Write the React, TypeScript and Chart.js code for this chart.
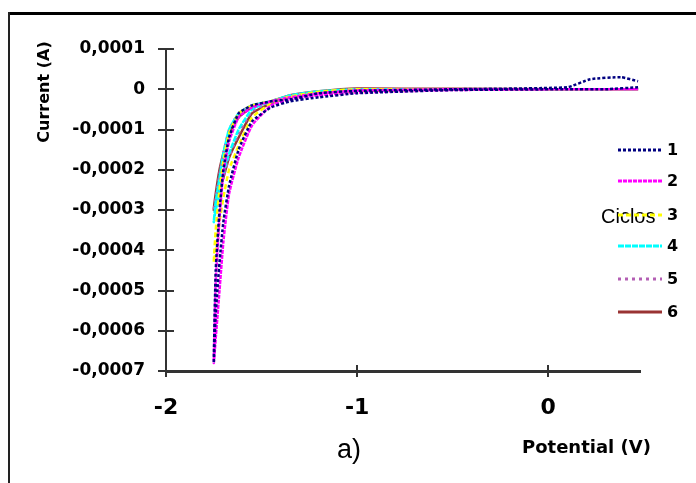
import React, { useEffect, useRef } from "react";
import { Chart, registerables } from "chart.js";
Chart.register(...registerables);

// Sweep potentials (V): forward to -1.75 V then back
const potential = [0.47, 0.3, 0.1, -0.5, -1.0, -1.2, -1.35, -1.45, -1.55, -1.62, -1.67, -1.7, -1.72, -1.74, -1.75,
  -1.74, -1.72, -1.7, -1.67, -1.62, -1.55, -1.45, -1.35, -1.2, -1.0, -0.5, 0.1, 0.22, 0.38, 0.47];

// Currents (A) for each cycle
const cycle1 = [0.000005, 0, 0, -0.000002, -0.00001, -0.00002, -0.00003, -0.000045, -0.00008, -0.00015, -0.00024, -0.00033, -0.00043, -0.00056, -0.00068,
  -0.00045, -0.0003, -0.0002, -0.00012, -0.00006, -0.00004, -0.00003, -0.000025, -0.00001, -0.000004, 0, 0.000005, 0.000025, 0.00003, 0.00002];
const cycle2 = [0, 0, 0, -0.000002, -0.000008, -0.000015, -0.000025, -0.00004, -0.00009, -0.00017, -0.00026, -0.00038, -0.0005, -0.00062, -0.00068,
  -0.00048, -0.00032, -0.00021, -0.00013, -0.00007, -0.000045, -0.00003, -0.00002, -0.00001, -0.000003, 0, 0, 0, 0, 0];
const cycle3 = [0, 0, 0, 0, -0.000005, -0.00001, -0.00002, -0.000035, -0.00007, -0.00014, -0.0002, -0.00027, -0.00033, -0.0004, -0.00043,
  -0.00035, -0.00025, -0.00018, -0.00011, -0.00006, -0.00004, -0.00003, -0.000018, -0.000006, 0, 0, 0, 0, 0, 0];
const cycle4 = [0, 0, 0, 0, -0.000003, -0.000008, -0.000018, -0.00003, -0.00005, -0.0001, -0.00016, -0.00021, -0.00026, -0.0003, -0.00033,
  -0.00028, -0.00022, -0.00016, -0.0001, -0.00006, -0.00004, -0.00003, -0.000015, -0.000005, 0, 0, 0, 0, 0, 0];
const cycle5 = [0, 0, 0, 0, -0.000004, -0.00001, -0.00002, -0.000032, -0.000055, -0.00011, -0.00017, -0.00022, -0.00026, -0.00029, -0.0003,
  -0.00027, -0.00021, -0.00016, -0.0001, -0.00006, -0.00004, -0.00003, -0.000016, -0.000005, 0, 0, 0, 0, 0, 0];
const cycle6 = [0, 0, 0, 0, -0.000002, -0.000008, -0.00002, -0.000035, -0.00006, -0.00012, -0.00017, -0.00022, -0.00025, -0.00028, -0.0003,
  -0.00026, -0.0002, -0.00016, -0.00011, -0.00007, -0.000045, -0.00003, -0.000015, -0.000005, 0.000002, 0.000001, 0, 0, 0, 0];

const cycleLabels = ["1", "2", "3", "4", "5", "6"];
const cycleColors = ["#000080", "#FF00FF", "#FFFF00", "#00FFFF", "#B45FB4", "#993333"];
const cycleDashes = [[3, 2], [4, 1], [5, 3], [6, 1], [3, 4], []];

const xTicks = [-2, -1, 0];
const xTickLabels = ["-2", "-1", "0"];
const yTicks = [0.0001, 0, -0.0001, -0.0002, -0.0003, -0.0004, -0.0005, -0.0006, -0.0007];
const yTickLabels = ["0,0001", "0", "-0,0001", "-0,0002", "-0,0003", "-0,0004", "-0,0005", "-0,0006", "-0,0007"];

const yTitle = "Current (A)";
const xTitle = "Potential (V)";
const panelLabel = "a)";
const legendTitle = "Ciclos";

const W = 696;
const H = 483;

const findLabel = (ticks: number[], labels: string[], v: number) => {
  const i = ticks.findIndex((t) => Math.abs(t - v) < 1e-10);
  return i >= 0 ? labels[i] : "";
};

const decorPlugin = {
  id: "decor",
  afterDraw(chart: any) {
    const ctx = chart.ctx as CanvasRenderingContext2D;
    const xs = chart.scales.x;
    const ys = chart.scales.y;
    ctx.save();
    // frame
    ctx.strokeStyle = "#000";
    ctx.lineWidth = 3;
    ctx.beginPath();
    ctx.moveTo(8, 13.5);
    ctx.lineTo(W, 13.5);
    ctx.stroke();
    ctx.strokeStyle = "#222";
    ctx.lineWidth = 2;
    ctx.beginPath();
    ctx.moveTo(9, 12);
    ctx.lineTo(9, H);
    ctx.stroke();

    // inner halves of crossing ticks
    ctx.strokeStyle = "#333";
    ctx.lineWidth = 2;
    yTicks.forEach((v) => {
      const py = Math.round(ys.getPixelForValue(v));
      ctx.beginPath();
      ctx.moveTo(xs.left, py);
      ctx.lineTo(xs.left + 8, py);
      ctx.stroke();
    });
    xTicks.forEach((v) => {
      const px = Math.round(xs.getPixelForValue(v));
      ctx.beginPath();
      ctx.moveTo(px, ys.bottom);
      ctx.lineTo(px, ys.bottom - 6);
      ctx.stroke();
    });

    // titles
    ctx.fillStyle = "#000";
    ctx.font = "bold 16px 'DejaVu Sans'";
    ctx.textAlign = "center";
    ctx.textBaseline = "middle";
    ctx.save();
    ctx.translate(45, 92);
    ctx.rotate(-Math.PI / 2);
    ctx.fillText(yTitle, 0, 0);
    ctx.restore();

    ctx.font = "bold 18px 'DejaVu Sans'";
    ctx.textAlign = "left";
    ctx.textBaseline = "alphabetic";
    ctx.fillText(xTitle, 522, 453);

    ctx.font = "27px 'Liberation Sans'";
    ctx.fillText(panelLabel, 337, 458);

    // legend
    ctx.font = "20px 'Liberation Sans'";
    ctx.fillText(legendTitle, 601, 223);
    const legY = [150, 181, 215, 246, 279, 312];
    chart.data.datasets.forEach((ds: any, i: number) => {
      const y = legY[i];
      ctx.strokeStyle = ds.borderColor;
      ctx.lineWidth = 3;
      ctx.setLineDash(ds.borderDash || []);
      ctx.beginPath();
      ctx.moveTo(618, y);
      ctx.lineTo(662, y);
      ctx.stroke();
      ctx.setLineDash([]);
      ctx.fillStyle = "#000";
      ctx.font = "bold 16px 'DejaVu Sans'";
      ctx.textBaseline = "middle";
      ctx.fillText(ds.label, 667, y + 1);
      ctx.textBaseline = "alphabetic";
    });
    ctx.restore();
  },
};

export default function App() {
  const ref = useRef<HTMLCanvasElement>(null);
  useEffect(() => {
    if (!ref.current) return;
    const cycles = [cycle1, cycle2, cycle3, cycle4, cycle5, cycle6];
    const chart = new Chart(ref.current, {
      type: "scatter",
      data: {
        datasets: cycles.map((c, i) => ({
          label: cycleLabels[i],
          data: potential.map((p, j) => ({ x: p, y: c[j] })),
          showLine: true,
          borderColor: cycleColors[i],
          backgroundColor: cycleColors[i],
          borderDash: cycleDashes[i],
          borderWidth: 2.5,
          pointRadius: 0,
          tension: 0.15,
        })),
      },
      options: {
        animation: false,
        responsive: false,
        devicePixelRatio: 1,
        layout: { padding: { left: 0, top: 49, right: 56, bottom: 0 } },
        plugins: { legend: { display: false }, tooltip: { enabled: false } },
        scales: {
          x: {
            type: "linear",
            min: -2,
            max: 0.48,
            afterBuildTicks: (s: any) => {
              s.ticks = xTicks.map((v) => ({ value: v }));
            },
            afterFit: (s: any) => {
              s.height = 112;
            },
            ticks: {
              color: "#000",
              font: { family: "'DejaVu Sans'", size: 22, weight: "bold" },
              padding: 18,
              maxRotation: 0,
              callback: (v: any) => findLabel(xTicks, xTickLabels, Number(v)),
            },
            grid: { display: true, drawOnChartArea: false, drawTicks: true, tickLength: 6, color: "#333", lineWidth: 2 },
            border: { display: true, color: "#333", width: 3, dash: [4, 2] },
          },
          y: {
            type: "linear",
            min: -0.0007,
            max: 0.0001,
            afterBuildTicks: (s: any) => {
              s.ticks = yTicks.map((v) => ({ value: v }));
            },
            afterFit: (s: any) => {
              s.width = 166;
            },
            ticks: {
              color: "#000",
              font: { family: "'DejaVu Sans'", size: 17, weight: "bold" },
              padding: 13,
              callback: (v: any) => findLabel(yTicks, yTickLabels, Number(v)),
            },
            grid: { display: true, drawOnChartArea: false, drawTicks: true, tickLength: 8, color: "#333", lineWidth: 2 },
            border: { display: true, color: "#333", width: 2 },
          },
        },
      },
      plugins: [decorPlugin],
    });
    return () => chart.destroy();
  }, []);
  return (
    <div style={{ position: "absolute", left: 0, top: 0, width: W, height: H, background: "#fff" }}>
      <canvas ref={ref} width={W} height={H} style={{ display: "block" }} />
    </div>
  );
}
